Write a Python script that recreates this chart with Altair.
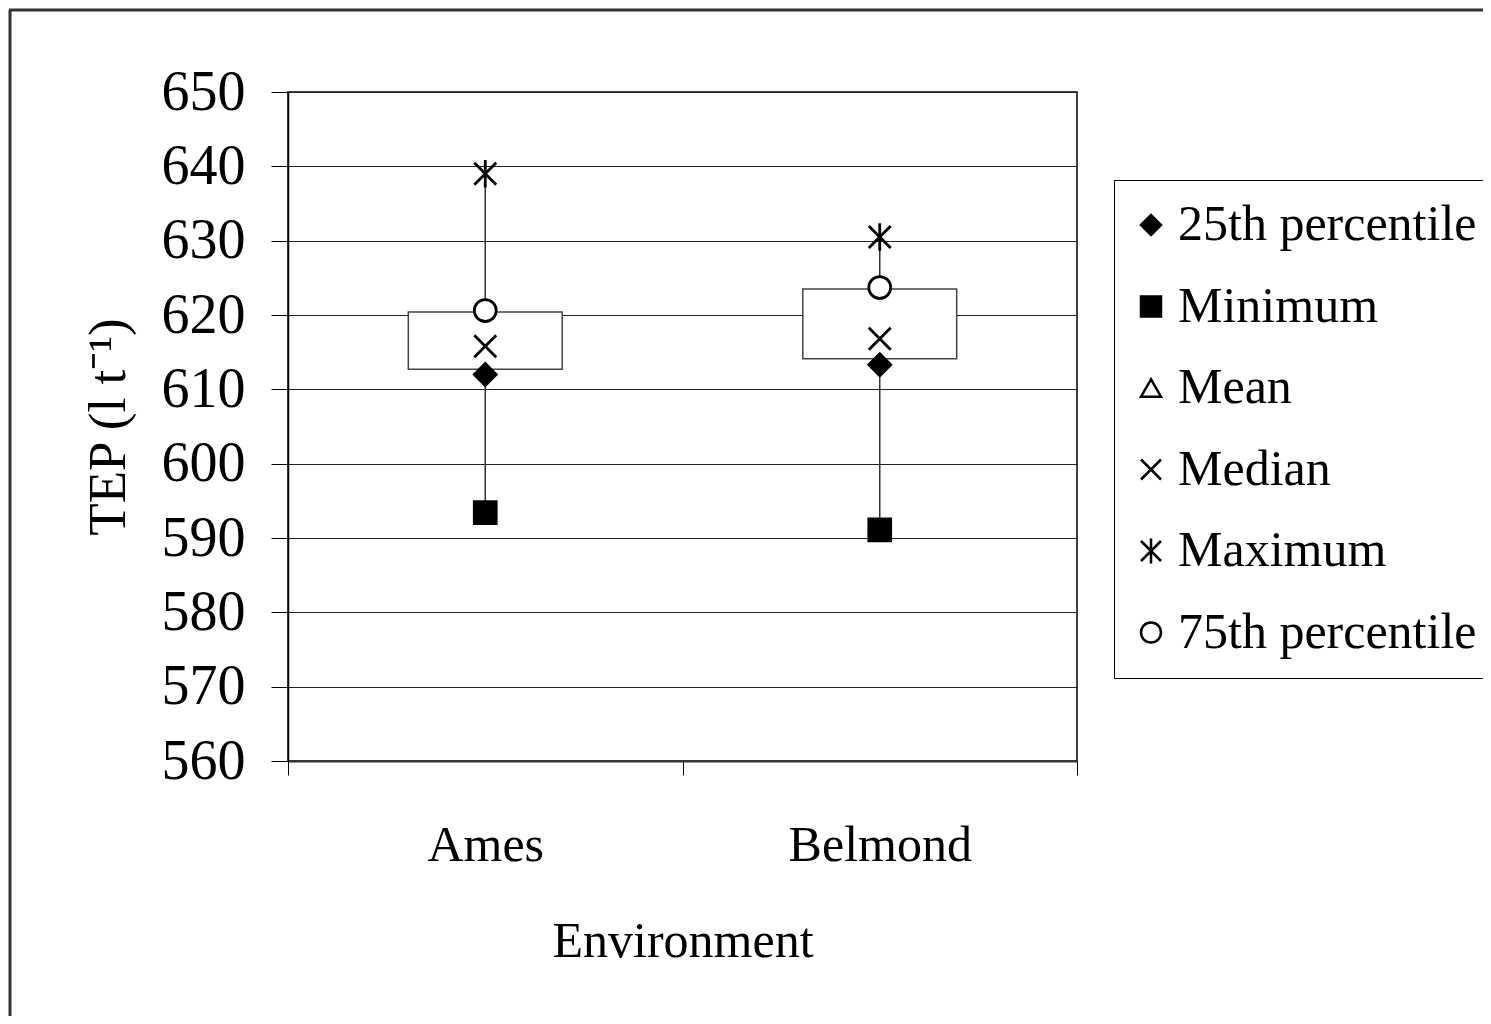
import altair as alt
import pandas as pd

# ---- data ----
envs = ["Ames", "Belmond"]
p25 = [612.0, 613.3]
minimum = [593.4, 591.1]
median = [615.8, 616.8]
maximum = [639.0, 630.5]
p75 = [620.6, 623.7]
box_low = [612.7, 614.1]
box_high = [620.4, 623.5]

series = ["25th percentile", "Minimum", "Mean", "Median", "Maximum", "75th percentile"]
y_ticks = [560, 570, 580, 590, 600, 610, 620, 630, 640, 650]

FONT = "Liberation Serif"
W, H = 789, 669

rows = []
for i, e in enumerate(envs):
    for s, vals in [("25th percentile", p25), ("Minimum", minimum), ("Median", median),
                    ("Maximum", maximum), ("75th percentile", p75)]:
        rows.append({"env": e, "stat": s, "value": vals[i]})
pts = pd.DataFrame(rows)
summary = pd.DataFrame({"env": envs, "min": minimum, "max": maximum, "lo": box_low, "hi": box_high})

x_enc = alt.X(
    "env:N", sort=envs,
    scale=alt.Scale(paddingInner=0, paddingOuter=0),
    axis=alt.Axis(
        title="Environment", labelAngle=0, labelFont=FONT, labelFontSize=50, labelColor="black",
        labelBaseline="middle", labelPadding=70, labelLimit=0, tickSize=14, tickBand="extent",
        tickColor="black", domainColor="#333", domainWidth=2, grid=False,
        titleFont=FONT, titleFontSize=50, titleFontWeight="normal", titleColor="black",
        titleY=180, titleBaseline="middle",
    ),
)
y_scale = alt.Scale(domain=[560, 650], nice=False, zero=False)
y_enc = alt.Y(
    "min:Q", scale=y_scale,
    axis=alt.Axis(
        title="TEP (l t⁻¹)", values=y_ticks, labelFont=FONT, labelFontSize=56, labelColor="black",
        labelPadding=26, tickSize=17, tickColor="black", domainColor="black", domainWidth=1.5,
        grid=True, gridColor="#222", gridWidth=1,
        titleFont=FONT, titleFontSize=53, titleFontWeight="normal", titleColor="black",
        titleX=-180, titleY=H / 2, titleAngle=-90, titleBaseline="middle", titleAlign="center",
    ),
)

one = pd.DataFrame({"k": [0]})
frame_left = alt.Chart(one).mark_rule(color="#333", strokeWidth=3).encode(
    x=alt.value(-278), y=alt.value(-82), y2=alt.value(3000))
frame_top = alt.Chart(one).mark_rule(color="#333", strokeWidth=3).encode(
    x=alt.value(-279), x2=alt.value(3000), y=alt.value(-82))

whisker = alt.Chart(summary).mark_rule(color="#333", strokeWidth=1.5).encode(
    x=x_enc, y=y_enc, y2="max:Q"
)

box = alt.Chart(summary).mark_bar(
    width=alt.RelativeBandSize(0.39), fill="white", stroke="#444", strokeWidth=1.5
).encode(x=alt.X("env:N", sort=envs), y=alt.Y("lo:Q", scale=y_scale), y2="hi:Q")

shapes = ["diamond", "square", "triangle-up",
          "M-1,-1L1,1M-1,1L1,-1",
          "M-1,-1L1,1M-1,1L1,-1M0,-1.25L0,1.25",
          "circle"]
fills = ["black", "black", "white", "black", "black", "white"]
strokes = ["black"] * 6

legend = alt.Legend(
    title=None, orient="none", legendX=826, legendY=88,
    labelFont=FONT, labelFontSize=50, labelColor="black", labelLimit=0,
    symbolSize=400, symbolStrokeWidth=2.5, symbolOffset=-8,
    rowPadding=31.5, padding=20, labelOffset=2,
    strokeColor="black",
)

points = alt.Chart(pts).mark_point(opacity=1, strokeWidth=2.8, size=480).encode(
    x=alt.X("env:N", sort=envs),
    y=alt.Y("value:Q", scale=y_scale),
    shape=alt.Shape("stat:N", scale=alt.Scale(domain=series, range=shapes), legend=legend),
    fill=alt.Fill("stat:N", scale=alt.Scale(domain=series, range=fills), legend=legend),
    stroke=alt.Stroke("stat:N", scale=alt.Scale(domain=series, range=strokes), legend=legend),
)

chart = alt.layer(frame_left, frame_top, whisker, box, points).properties(
    width=W, height=H,
    autosize=alt.AutoSizeParams(type="none"),
    padding={"left": 280, "top": 84, "right": 406, "bottom": 255},
    background="white",
).configure_view(stroke="black", strokeWidth=1.5)

chart.save("out.html", embed_options={"renderer": "svg", "actions": False})
